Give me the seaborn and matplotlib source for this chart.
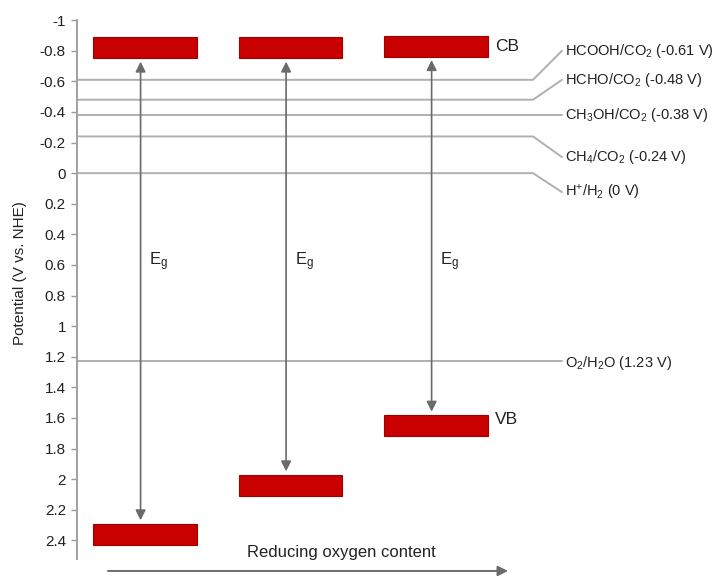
import matplotlib
matplotlib.use("Agg")
import matplotlib.pyplot as plt
import seaborn as sns
import numpy as np

# ---- data ----
samples = ["Sample 1", "Sample 2", "Sample 3"]
cb_levels = [-0.82, -0.82, -0.83]      # conduction band (V vs. NHE)
vb_levels = [2.36, 2.04, 1.65]         # valence band (V vs. NHE)
redox_labels = ["HCOOH/CO$_2$ (-0.61 V)", "HCHO/CO$_2$ (-0.48 V)",
                "CH$_3$OH/CO$_2$ (-0.38 V)", "CH$_4$/CO$_2$ (-0.24 V)",
                "H$^{+}$/H$_2$ (0 V)", "O$_2$/H$_2$O (1.23 V)"]
redox_values = [-0.61, -0.48, -0.38, -0.24, 0.0, 1.23]
y_ticks = [-1, -0.8, -0.6, -0.4, -0.2, 0, 0.2, 0.4, 0.6, 0.8, 1, 1.2,
           1.4, 1.6, 1.8, 2, 2.2, 2.4]

# ---- layout (not data) ----
label_y = [-0.80, -0.61, -0.38, -0.105, 0.124, 1.24]
bar_width = 0.71
bar_thick = 0.137

sns.set_theme(style="white")
plt.rcParams["font.family"] = ["Liberation Sans", "DejaVu Sans"]
plt.rcParams["mathtext.default"] = "regular"
plt.rcParams["axes.unicode_minus"] = False

fig = plt.figure(figsize=(7.19, 5.76), dpi=100)
ax = fig.add_axes([77 / 719, 0.030, 642 / 719, 0.935])

x = np.arange(len(samples))
bar_color = "#c80000"
edge = "#a00000"
ax.bar(x, bar_thick, bottom=np.array(cb_levels) - bar_thick / 2, width=bar_width,
       color=bar_color, edgecolor=edge, linewidth=0.8, zorder=3)
ax.bar(x, bar_thick, bottom=np.array(vb_levels) - bar_thick / 2, width=bar_width,
       color=bar_color, edgecolor=edge, linewidth=0.8, zorder=3)

xmin, xmax = -0.467, 3.945
ax.set_xlim(xmin, xmax)
ax.set_ylim(2.52, -1.0)

# redox reference lines with leader lines to labels
line_color = "#b0b0b0"
x_bend, x_end, x_text = 2.667, 2.866, 2.887
for lab, val, ly in zip(redox_labels, redox_values, label_y):
    if abs(ly - val) < 0.03:
        ax.plot([xmin, x_end], [val, val], color=line_color, lw=1.4, zorder=1,
                clip_on=False)
    else:
        ax.plot([xmin, x_bend, x_end], [val, val, ly],
                color=line_color, lw=1.4, zorder=1, clip_on=False)
    ax.text(x_text, ly, lab, fontsize=10.5, color="#222222", va="center", ha="left")

# band gap arrows
for xi, c, v in zip(x, cb_levels, vb_levels):
    ax.annotate("", xy=(xi - 0.03, c + bar_thick / 2), xytext=(xi - 0.03, v - bar_thick / 2),
                arrowprops=dict(arrowstyle="<|-|>", color="#6a6a6a", lw=1.2,
                                shrinkA=2.5, shrinkB=2.5, mutation_scale=15))
    ax.text(xi + 0.03, 0.58, "E$_g$", fontsize=12, color="#222222", va="center", ha="left")

ax.text(x[-1] + bar_width / 2 + 0.05, cb_levels[-1], "CB", fontsize=12.5,
        color="#222222", va="center", ha="left")
ax.text(x[-1] + bar_width / 2 + 0.05, vb_levels[-1] - 0.04, "VB", fontsize=12.5,
        color="#222222", va="center", ha="left")

# bottom arrow
ax.text(1.35, 2.48, "Reducing oxygen content", fontsize=12, color="#222222",
        ha="center", va="center")
ax.annotate("", xy=(2.495, 2.60), xytext=(-0.254, 2.60), annotation_clip=False,
            arrowprops=dict(arrowstyle="-|>", color="#6a6a6a", lw=1.4,
                            shrinkA=0, shrinkB=0, mutation_scale=15))

# axes styling
ax.set_yticks(y_ticks)
ax.set_yticklabels(["%g" % t for t in y_ticks])
ax.set_xticks([])
ax.tick_params(axis="y", direction="out", length=4, width=1, color="#999999",
               labelsize=11, labelcolor="#222222", pad=4, left=True)
sns.despine(ax=ax, top=True, right=True, bottom=True, left=False)
ax.spines["left"].set_color("#a0a0a0")
ax.spines["left"].set_linewidth(1.4)
ax.set_ylabel("Potential (V vs. NHE)", fontsize=11, color="#222222")
ax.yaxis.set_label_coords(-0.078, 0.53)
ax.grid(False)

fig.savefig("out.png", dpi=100)
